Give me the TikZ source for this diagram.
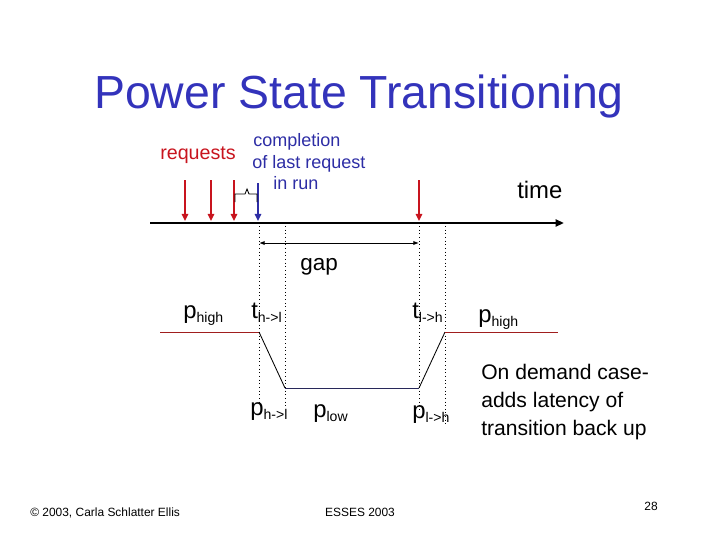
\documentclass[tikz,border=0pt]{standalone}
\usepackage{fontspec}
\setmainfont{Liberation Sans}
\usetikzlibrary{positioning, arrows.meta}
\definecolor{titleblue}{RGB}{51, 51, 187}
\definecolor{textblue}{RGB}{45, 45, 165}
\definecolor{reqred}{RGB}{200, 20, 30}
\definecolor{powred}{RGB}{160, 30, 30}
\definecolor{lownavy}{RGB}{40, 40, 90}
\newcommand{\lowsub}[1]{\raisebox{-0.35ex}{\fontsize{10}{10}\selectfont #1}}

\begin{document}
\begin{tikzpicture}[x=0.025cm, y=-0.025cm,
                lbl/.style={font=\fontsize{17}{19}\selectfont, inner sep=0pt,
                    anchor=base west},
                cmpl/.style={font=\fontsize{12.8}{15}\selectfont, text=textblue,
                    inner sep=0pt, anchor=base west},
                foot/.style={font=\fontsize{8.5}{10}\selectfont, inner sep=0pt,
                    anchor=base},
                reqarr/.style={-{Triangle[length=5pt, width=4.5pt]},
                    line width=1.4pt, reqred},
                donearr/.style={reqarr, textblue},
                timeaxis/.style={-{Triangle[length=6pt, width=5pt]},
                    line width=1.8pt},
                guide/.style={dotted, line width=0.6pt},
                powline/.style={line width=0.6pt}
            ]

                \useasboundingbox (0,0) rectangle (720,540);

                \node[font=\fontsize{33}{36}\selectfont, text=titleblue,
                      anchor=base] (title) at (359,108) {Power State Transitioning};

                \node[lbl, font=\fontsize{14}{16}\selectfont, text=reqred]
                    (req) at (160,159) {requests};
                \node[cmpl] (cmp1) at (253,146) {completion};
                \node[cmpl] (cmp2) at (252,168) {of last request};
                \node[cmpl] (cmp3) at (273,189) {in run};
                \node[lbl] (time) at (517,198) {time};

                \coordinate (t0) at (150,223);
                \coordinate (t1) at (564,223);
                \draw[timeaxis] (t0) -- (t1);

                \foreach \x [count=\i] in {185,211,234,419} {
                    \coordinate (rq\i) at (\x,180);
                    \coordinate (rt\i) at (\x,221);
                    \draw[reqarr] (rq\i) -- (rt\i);
                }
                \coordinate (cq) at (258,183);
                \coordinate (ct) at (258,221);
                \draw[donearr] (cq) -- (ct);

                \draw[line width=0.6pt] (235,202) -- (235,194) -- (245,194)
                    -- (247,189) -- (249,194) -- (257,194) -- (257,202);

                \foreach \x/\yb [count=\i] in {259/403, 285/406, 419/410, 445/424} {
                    \coordinate (gt\i) at (\x,226);
                    \coordinate (gb\i) at (\x,\yb);
                    \draw[guide] (gt\i) -- (gb\i);
                }

                \coordinate (g0) at (259,243);
                \coordinate (g1) at (419,243);
                \draw[{Latex[length=4pt, width=3pt]}-{Latex[length=4pt, width=3pt]},
                      line width=0.7pt] (g0) -- (g1);
                \node[lbl, font=\fontsize{16}{18}\selectfont] (gap) at (300,270) {gap};

                \coordinate (hA) at (160,332);
                \coordinate (hB) at (259,332);
                \coordinate (lA) at (285,388);
                \coordinate (lB) at (419,388);
                \coordinate (hC) at (445,332);
                \coordinate (hD) at (558,332);
                \draw[powline, powred] (hA) -- (hB);
                \draw[powline] (hB) -- (lA);
                \draw[powline, lownavy] (lA) -- (lB);
                \draw[powline] (lB) -- (hC);
                \draw[powline, powred] (hC) -- (hD);

                \node[lbl] (phl) at (183,318) {p\lowsub{high}};
                \node[lbl] (thl) at (251,318) {t\lowsub{h->l}};
                \node[lbl] (tlh) at (412,318) {t\lowsub{l->h}};
                \node[lbl] (phr) at (478,322) {p\lowsub{high}};
                \node[lbl] (pdn) at (250,415) {p\lowsub{h->l}};
                \node[lbl] (plow) at (313,417) {p\lowsub{low}};
                \node[lbl] (pup) at (412,418) {p\lowsub{l->h}};

                \node[font=\fontsize{15}{20}\selectfont, align=left, inner sep=0pt,
                      anchor=north west] (note) at (481,364)
                    {On demand case-\\adds latency of\\transition back up};

                \node[foot, anchor=base west] (copy) at (30,516)
                    {© 2003, Carla Schlatter Ellis};
                \node[foot] (conf) at (360,516) {ESSES 2003};
                \node[foot] (page) at (651,510) {28};

            \end{tikzpicture}
\end{document}
